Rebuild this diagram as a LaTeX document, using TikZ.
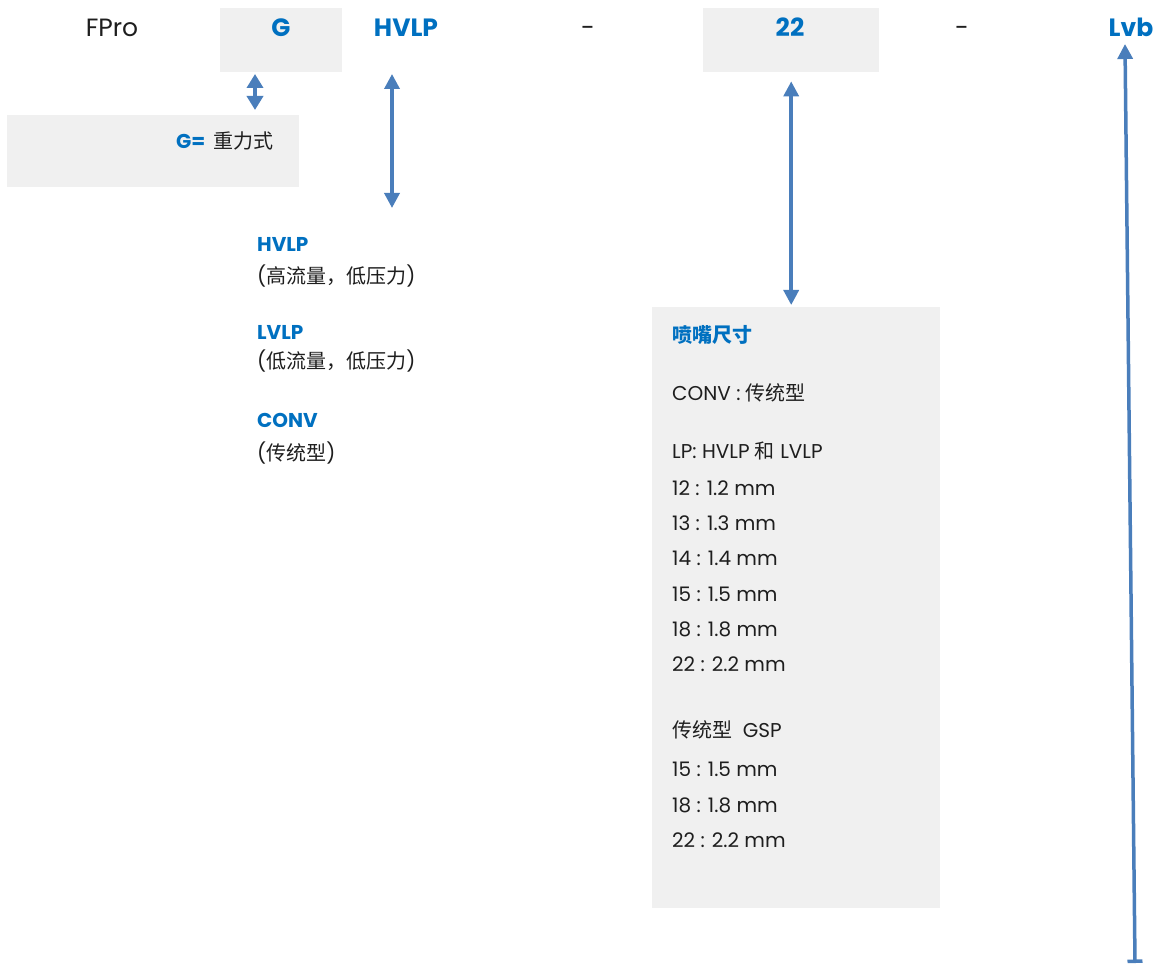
\documentclass[tikz,border=0pt]{standalone}
\usepackage{fontspec}
\setmainfont{Poppins}
\newfontfamily\cjk{Noto Sans CJK SC}
\usepackage{tikz}
\usetikzlibrary{positioning, arrows.meta, calc}
\definecolor{codeblue}{HTML}{0070C0}
\definecolor{arrowblue}{HTML}{4A7EBB}
\definecolor{boxgray}{HTML}{F0F0F0}
\definecolor{textgray}{HTML}{1E1E1E}

\begin{document}
\begin{tikzpicture}[
    x=1pt, y=-1pt,
    % GLOBAL CFG
    font=\fontsize{20}{24}\selectfont,
    text=textgray,
    >={Triangle[width=15pt,length=15pt]},
    % Styles
    gbox/.style={% For the grey boxes
        rectangle,
        fill=boxgray,
        inner sep=0pt,
        anchor=north west,
        },
    code/.style={% For the parts of the code on top
        font=\fontsize{25}{30}\selectfont,
        anchor=base,
        inner sep=0pt,
        },
    codeb/.style={% Bold blue parts of the code
        code,
        font=\fontsize{25}{30}\selectfont\bfseries,
        text=codeblue,
        },
    desc/.style={% For the explaining lines
        anchor=base west,
        inner sep=0pt,
        },
    descb/.style={% Bold blue headers
        desc,
        font=\fontsize{20}{24}\selectfont\bfseries,
        text=codeblue,
        },
    ArrowB/.style={% Blue arrows
        draw=arrowblue,
        line width=3.5pt,
        },
    ]

    \useasboundingbox (0,0) rectangle (1156,965);

    % Draw the grey boxes
    \node [gbox, minimum width=122pt, minimum height=64pt] (boxg) at (220,8) {};
    \node [gbox, minimum width=176pt, minimum height=64pt] (box22) at (703,8) {};
    \node [gbox, minimum width=292pt, minimum height=72pt] (boxgrav) at (7,115) {};
    \node [gbox, minimum width=288pt, minimum height=601pt] (boxsize) at (652,307) {};

    % Draw the code on top
    \node [code] (fpro) at (112,37) {FPro};
    \node [codeb] (g) at (281,37) {G};
    \node [codeb] (hvlp) at (406,37) {HVLP};
    \node [code] (dash1) at (588,37) {-};
    \node [codeb] (n22) at (790,37) {22};
    \node [code] (dash2) at (962,37) {-};
    \node [codeb] (lvb) at (1131,37) {Lvb};

    % Gravity
    \node [descb] (gis) at (176,149) {G=};
    \node [desc] (grav) at (213,149) {\cjk 重力式};

    % Air cap types
    \node [descb] (thvlp) at (257,252) {HVLP};
    \node [desc] (dhvlp) at (257,284) {({\cjk 高流量，低压力})};
    \node [descb] (tlvlp) at (257,340) {LVLP};
    \node [desc] (dlvlp) at (257,368) {({\cjk 低流量，低压力})};
    \node [descb] (tconv) at (257,427) {CONV};
    \node [desc] (dconv) at (257,460) {({\cjk 传统型})};

    % Nozzle sizes
    \node [desc, text=codeblue, font=\fontsize{20}{24}\selectfont\cjk\bfseries] (tsize) at (672,342) {喷嘴尺寸};
    \node [desc] (sconv) at (672,400) {CONV : {\cjk 传统型}};
    \node [desc] (slp) at (672,458) {LP: HVLP {\cjk 和} LVLP};
    \foreach \n/\d/\yy in {12/1.2/495, 13/1.3/530, 14/1.4/565, 15/1.5/601, 18/1.8/636, 22/2.2/671}
        \node [desc] (sz\n) at (672,\yy) {\n\ : \d\ mm};
    \node [desc] (sgsp) at (672,737) {{\cjk 传统型}\ \ GSP};
    \foreach \n/\d/\yy in {15/1.5/776, 18/1.8/812, 22/2.2/847}
        \node [desc] (gsp\n) at (672,\yy) {\n\ : \d\ mm};

    % Arrow ends
    \coordinate (ga) at (255,74);
    \coordinate (gb) at (255,110);
    \coordinate (ha) at (392,74);
    \coordinate (hb) at (392,208);
    \coordinate (la) at (1125,44);
    \coordinate (lb) at (1135,963);

    % Drawing arrows
    \draw [<->, ArrowB, >={Triangle[width=16pt,length=14pt]}] (ga) -- (gb);
    \draw [<->, ArrowB] (ha) -- (hb);
    \draw [<->, ArrowB] ([yshift=-9pt]box22.south) -- ([yshift=2pt]box22.south |- boxsize.north);
    \draw [{Bar[width=15pt]}->, ArrowB] (lb) -- (la);
\end{tikzpicture}
\end{document}
